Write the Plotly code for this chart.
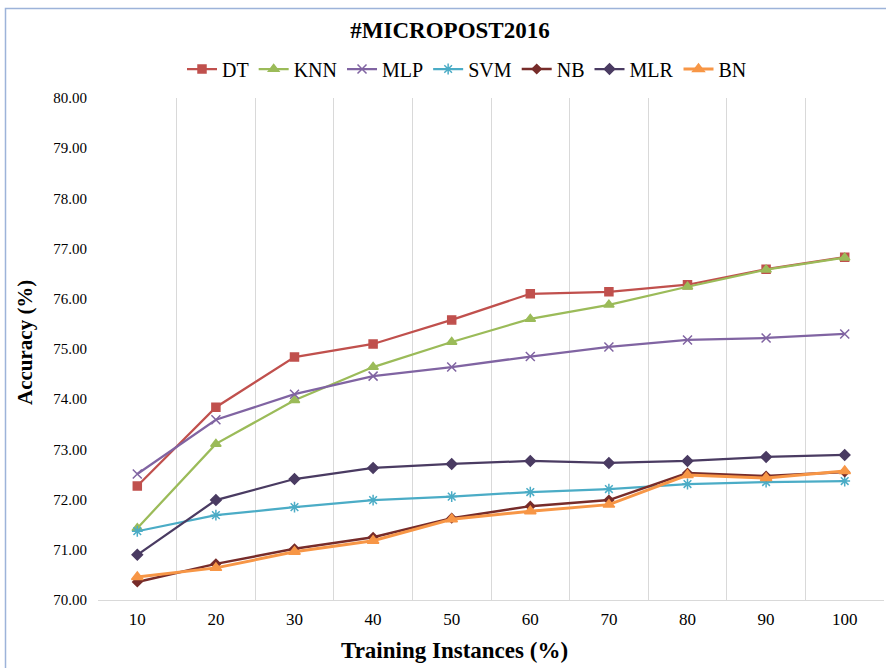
import plotly.graph_objects as go

categories = ["10", "20", "30", "40", "50", "60", "70", "80", "90", "100"]

dt = [72.27, 73.84, 74.84, 75.10, 75.58, 76.10, 76.14, 76.28, 76.59, 76.83]
knn = [71.43, 73.11, 73.98, 74.64, 75.14, 75.60, 75.88, 76.24, 76.58, 76.82]
mlp = [72.51, 73.59, 74.10, 74.46, 74.64, 74.85, 75.04, 75.18, 75.22, 75.30]
svm = [71.37, 71.69, 71.85, 71.99, 72.06, 72.15, 72.21, 72.31, 72.35, 72.37]
nb = [70.36, 70.72, 71.02, 71.25, 71.63, 71.87, 71.99, 72.53, 72.47, 72.55]
mlr = [70.90, 71.99, 72.41, 72.63, 72.71, 72.77, 72.73, 72.77, 72.85, 72.89]
bn = [70.46, 70.64, 70.96, 71.18, 71.61, 71.77, 71.90, 72.49, 72.43, 72.57]

y_ticks = [70 + i for i in range(11)]
y_ticktext = [f"{v:.2f}" for v in y_ticks]

series = [
    ("DT", dt, "#c0504d", "square", 8, 2.25),
    ("KNN", knn, "#9bbb59", "triangle-up", 9, 2.25),
    ("MLP", mlp, "#8064a2", "x-thin-open", 9, 2.25),
    ("SVM", svm, "#4bacc6", "asterisk-open", 9, 2.25),
    ("NB", nb, "#772c2a", "diamond", 7, 2.5),
    ("MLR", mlr, "#4a3b62", "diamond", 8, 2.25),
    ("BN", bn, "#f79646", "triangle-up", 10, 3),
]

FONT = "Liberation Serif, Times New Roman, serif"
W, H = 886, 668

fig = go.Figure()
for name, vals, color, sym, size, lw in series:
    fig.add_trace(go.Scatter(
        x=categories, y=vals, name=name, mode="lines+markers",
        line=dict(color=color, width=lw),
        marker=dict(symbol=sym, size=size, color=color,
                    line=dict(color=color, width=1.5)),
    ))

fig.update_layout(
    width=W, height=H,
    margin=dict(l=98, r=2, t=98, b=68, autoexpand=False),
    paper_bgcolor="white", plot_bgcolor="white",
    font=dict(family=FONT, color="#000000", size=14),
    title=dict(text="<b>#MICROPOST2016</b>", x=450 / W, xref="container",
               xanchor="center", y=1 - 30 / H, yref="container", yanchor="middle",
               font=dict(size=23, family=FONT)),
    legend=dict(orientation="h", x=467 / W, xanchor="center", xref="container",
                y=1 - 69 / H, yanchor="middle", yref="container",
                font=dict(size=20, family=FONT), itemwidth=30,
                tracegroupgap=0, bgcolor="rgba(0,0,0,0)"),
    showlegend=True,
)

fig.update_xaxes(
    type="category", range=[-0.5, len(categories) - 0.5],
    tickson="boundaries", showgrid=True,
    gridcolor="#d9d9d9", gridwidth=1, ticks="", ticklen=0,
    showline=True, linecolor="#d9d9d9", linewidth=1, mirror=False,
    tickfont=dict(size=17, family=FONT), automargin=False,
    zeroline=False, ticklabelstandoff=4,
)

fig.update_yaxes(
    range=[70, 80], tickvals=y_ticks, ticktext=y_ticktext,
    showgrid=False, zeroline=False, showline=False, ticks="",
    tickfont=dict(size=15, family=FONT), automargin=False, ticklabelstandoff=10,
)

# axis titles
fig.add_annotation(text="<b>Training Instances (%)</b>", xref="paper", yref="paper",
                   x=(454 - 98) / 786, y=-(650 - 600) / 502, showarrow=False,
                   xanchor="center", yanchor="middle",
                   font=dict(size=23, family=FONT))
fig.add_annotation(text="<b>Accuracy (%)</b>", xref="paper", yref="paper",
                   x=-(98 - 25) / 786, y=(600 - 343) / 502, showarrow=False,
                   xanchor="center", yanchor="middle", textangle=-90,
                   font=dict(size=21, family=FONT))

# outer chart border
fig.add_shape(type="rect", xref="paper", yref="paper",
              x0=-(98 - 5.5) / 786, x1=1 + 10 / 786,
              y0=-80 / 502, y1=1 + (98 - 8.5) / 502,
              line=dict(color="#9db3d9", width=1.5), fillcolor="rgba(0,0,0,0)",
              layer="below")

fig.write_html(
    "out.html",
    config={"displayModeBar": False},
    post_script="document.body.style.margin='0';document.body.style.overflow='hidden';",
)
